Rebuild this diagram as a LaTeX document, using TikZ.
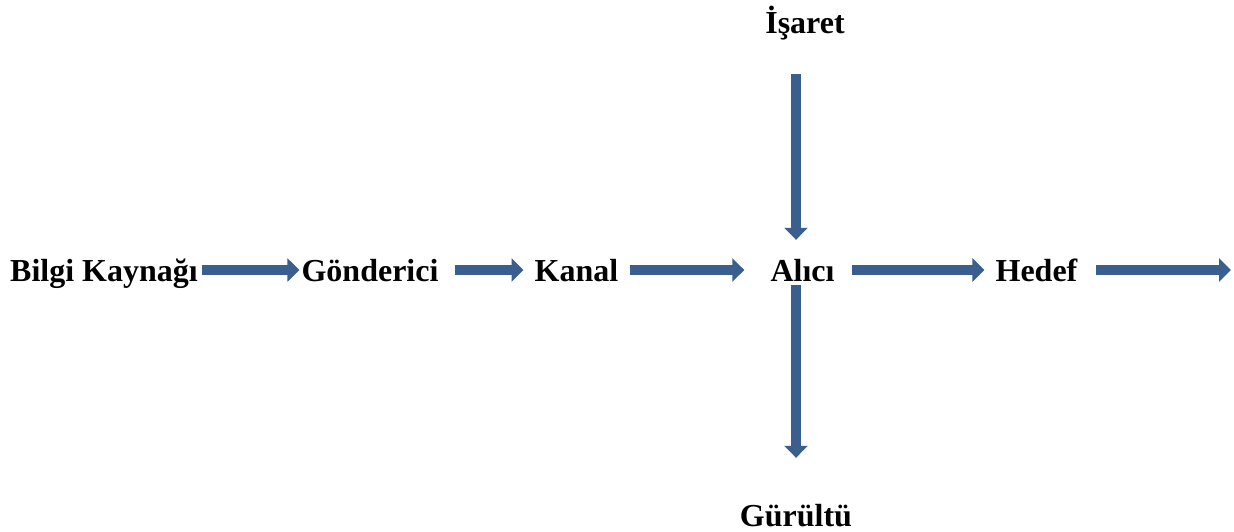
\documentclass[tikz,border=0pt]{standalone}
\usepackage{fontspec}
\setmainfont{Liberation Serif}
\usetikzlibrary{arrows.meta}
\definecolor{blkblue}{RGB}{58,94,142}
\begin{document}
\begin{tikzpicture}[x=1pt,y=-1pt,
  lbl/.style={inner sep=0pt,text height=22pt,text depth=0pt,font=\fontsize{32}{38}\selectfont\bfseries},
  blk/.style={draw=blkblue,line width=9.5pt,-{Triangle[width=23pt,length=12pt]}}]
\useasboundingbox (0,0) rectangle (1234,531);
\node[lbl] (src) at (104,270) {Bilgi Kaynağı};
\node[lbl] (snd) at (370,270) {Gönderici};
\node[lbl] (kan) at (576.5,270) {Kanal};
\node[lbl] (alc) at (802.5,270) {Alıcı};
\node[lbl] (hdf) at (1036.5,270) {Hedef};
\node[lbl] (isr) at (805,22) {İşaret};
\node[lbl] (gur) at (796,515) {Gürültü};
\coordinate (end) at (1231,270);
\draw[blk] ([shift={(4,0)}]src.east) -- ([shift={(-2,0)}]snd.west);
\draw[blk] ([shift={(16,0)}]snd.east) -- ([shift={(-11,0)}]kan.west);
\draw[blk] ([shift={(12,0)}]kan.east) -- ([shift={(-26,0)}]alc.west);
\draw[blk] ([shift={(17,0)}]alc.east) -- ([shift={(-11,0)}]hdf.west);
\draw[blk] ([shift={(18,0)}]hdf.east) -- (end);
\draw[blk] ([shift={(-9,41)}]isr.south) -- ([shift={(-6.5,-19)}]alc.north);
\draw[blk] ([shift={(-6.5,4)}]alc.south) -- ([shift={(0,-46)}]gur.north);
\end{tikzpicture}
\end{document}
